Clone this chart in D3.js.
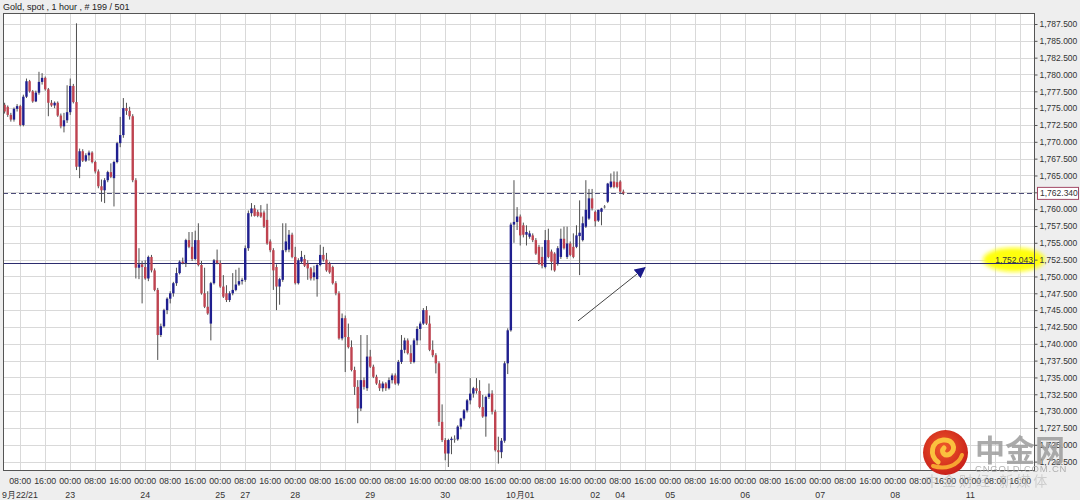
<!DOCTYPE html>
<html><head><meta charset="utf-8">
<script src="https://cdn.jsdelivr.net/npm/d3@7"></script>
<style>
html,body{margin:0;padding:0;background:#ededed;}
svg{display:block;font-family:"Liberation Sans",Arial,sans-serif;}
</style></head><body>
<svg id="chart" width="1080" height="500"></svg>
<script>
const title = "Gold, spot , 1 hour , # 199 / 501";

const opens = [1775.5,1775.2,1774.0,1773.3,1774.9,1775.3,1772.5,1776.7,1779.0,1777.5,
1776.0,1777.3,1778.9,1779.5,1777.8,1775.8,1775.4,1775.8,1773.9,1772.3,
1773.2,1774.4,1778.3,1775.9,1766.3,1768.6,1767.2,1768.0,1768.4,1767.0,
1765.6,1763.4,1762.8,1764.3,1765.5,1764.6,1767.0,1769.8,1771.0,1775.0,
1774.6,1773.8,1764.3,1751.3,1751.8,1751.4,1749.7,1752.9,1750.9,1748.0,
1741.3,1742.6,1745.0,1746.7,1747.5,1749.0,1750.5,1752.2,1752.0,1755.4,
1754.4,1752.6,1755.4,1751.7,1747.5,1745.5,1743.0,1749.0,1752.4,1752.0,
1748.5,1747.5,1746.5,1747.5,1748.0,1748.8,1749.3,1749.5,1754.2,1759.4,
1760.1,1759.6,1759.5,1759.5,1758.4,1755.2,1753.9,1751.4,1748.5,1749.5,
1753.9,1754.0,1756.2,1752.9,1749.0,1752.2,1752.6,1751.9,1751.2,1749.9,
1749.6,1751.7,1753.2,1752.5,1751.9,1751.4,1749.0,1747.5,1740.8,1743.8,
1741.0,1739.5,1736.1,1733.6,1730.4,1734.6,1733.4,1738.1,1736.6,1735.1,
1734.1,1733.4,1734.1,1733.4,1734.6,1735.3,1734.1,1737.3,1739.1,1740.5,
1738.6,1737.3,1740.5,1742.2,1743.0,1745.0,1743.0,1739.1,1738.3,1737.1,
1728.4,1725.7,1723.7,1725.7,1725.9,1725.8,1727.7,1728.9,1730.1,1731.6,
1732.6,1733.4,1733.0,1730.6,1729.2,1732.1,1732.6,1729.9,1724.2,1723.9,
1725.6,1737.1,1742.0,1757.7,1758.1,1758.9,1757.6,1756.2,1755.9,1756.1,
1755.4,1754.4,1752.9,1751.4,1755.4,1753.7,1753.4,1751.9,1752.9,1755.6,
1752.9,1754.9,1754.4,1754.4,1756.0,1755.4,1757.4,1758.6,1761.6,1759.6,
1758.3,1759.6,1760.3,1761.1,1763.3,1764.1,1764.0,1764.1,1762.6];

const highs = [1775.8,1775.4,1774.3,1775.1,1775.6,1775.5,1777.0,1779.4,1779.2,1777.7,
1777.6,1780.4,1780.2,1779.7,1778.0,1776.2,1776.0,1776.0,1774.2,1774.3,
1778.4,1779.4,1778.6,1787.6,1769.0,1768.9,1768.3,1768.7,1768.6,1767.2,
1765.9,1764.4,1764.6,1765.7,1766.8,1767.2,1770.0,1773.7,1776.5,1775.8,
1775.2,1774.1,1764.6,1754.2,1752.3,1752.4,1753.1,1753.2,1751.2,1748.3,
1743.0,1745.2,1746.9,1747.8,1749.2,1751.3,1752.4,1752.8,1755.6,1756.6,
1756.6,1756.8,1757.9,1752.3,1751.3,1747.8,1749.2,1752.6,1754.0,1752.4,
1750.2,1748.7,1747.8,1750.5,1751.0,1751.3,1749.8,1754.6,1759.8,1760.9,
1760.6,1759.9,1760.6,1759.8,1760.8,1755.5,1754.2,1751.8,1749.8,1757.9,
1757.9,1756.9,1756.5,1754.4,1752.7,1753.8,1753.2,1752.4,1751.4,1751.6,
1751.9,1754.7,1754.4,1753.5,1752.2,1751.6,1749.3,1747.8,1744.5,1744.2,
1743.0,1740.5,1736.6,1734.6,1741.3,1735.0,1741.3,1739.1,1736.9,1735.4,
1734.6,1734.4,1734.3,1735.0,1735.6,1735.6,1737.6,1741.3,1740.9,1740.8,
1739.8,1740.8,1742.6,1743.3,1745.3,1745.6,1744.2,1740.5,1738.6,1737.4,
1731.0,1726.0,1725.9,1726.2,1726.4,1727.9,1729.0,1730.3,1731.8,1734.9,
1733.6,1734.9,1734.6,1732.4,1732.3,1734.1,1733.1,1730.2,1726.2,1726.0,
1737.4,1742.3,1758.0,1764.3,1760.3,1759.2,1758.0,1757.6,1756.8,1756.4,
1755.7,1754.7,1754.4,1756.9,1757.1,1754.0,1753.6,1754.5,1757.1,1757.4,
1757.4,1755.2,1756.4,1757.6,1761.3,1758.9,1764.3,1763.0,1763.0,1759.8,
1759.9,1760.2,1760.6,1763.9,1765.3,1765.6,1765.6,1764.3,1762.9];

const lows = [1774.2,1773.7,1773.0,1773.0,1774.5,1772.3,1772.3,1776.5,1777.3,1775.8,
1775.9,1777.0,1778.5,1777.6,1773.8,1775.2,1775.0,1773.7,1772.0,1771.4,
1772.8,1774.0,1775.7,1765.8,1764.6,1767.0,1767.0,1767.2,1766.8,1765.3,
1763.1,1761.1,1760.9,1764.0,1764.6,1760.4,1766.8,1769.2,1770.6,1774.0,
1773.3,1764.0,1749.7,1749.6,1746.0,1749.5,1749.3,1750.6,1747.8,1737.6,
1741.0,1742.4,1744.4,1746.0,1747.0,1748.6,1750.3,1751.8,1751.4,1754.2,
1752.3,1752.4,1751.5,1747.3,1745.3,1744.3,1740.5,1748.8,1751.8,1748.3,
1746.8,1746.2,1746.2,1747.2,1747.8,1748.6,1748.8,1749.2,1753.8,1758.9,
1758.9,1758.8,1758.7,1757.2,1754.7,1753.6,1748.0,1745.0,1745.8,1749.2,
1753.6,1753.6,1752.7,1748.8,1748.8,1751.9,1751.4,1749.5,1749.4,1749.4,
1747.0,1751.5,1752.2,1750.7,1750.4,1748.8,1747.2,1740.6,1740.5,1735.8,
1739.3,1735.9,1732.4,1728.2,1730.0,1733.2,1733.0,1736.4,1734.9,1733.9,
1733.0,1732.9,1733.0,1733.2,1734.1,1733.9,1733.8,1737.0,1738.6,1738.4,
1737.0,1737.1,1739.8,1740.5,1742.8,1742.8,1738.9,1738.0,1735.6,1727.8,
1725.4,1722.7,1721.7,1723.6,1725.3,1725.6,1727.3,1728.6,1729.8,1731.0,
1732.0,1732.6,1730.4,1729.0,1726.2,1731.8,1729.5,1724.0,1722.2,1723.0,
1725.3,1735.5,1741.8,1755.0,1756.9,1754.6,1755.8,1754.6,1755.6,1755.1,
1753.2,1751.7,1751.2,1751.2,1752.7,1750.9,1750.7,1751.6,1752.6,1754.0,
1752.6,1753.0,1752.7,1754.2,1750.2,1755.2,1757.2,1758.4,1759.8,1757.4,
1758.1,1757.6,1760.1,1760.9,1763.1,1763.1,1763.1,1762.4,1762.1];

const closes = [1774.5,1774.0,1773.3,1774.9,1775.3,1772.5,1776.7,1779.0,1777.5,1776.0,
1777.3,1778.9,1779.5,1777.8,1775.8,1775.4,1775.8,1773.9,1772.3,1773.2,
1774.4,1778.3,1775.9,1766.3,1768.6,1767.2,1768.0,1768.4,1767.0,1765.6,
1763.4,1762.8,1764.3,1765.5,1764.8,1767.0,1769.8,1771.0,1775.0,1774.6,
1773.8,1764.3,1751.3,1751.8,1751.4,1749.7,1752.9,1750.9,1748.0,1741.3,
1742.6,1745.0,1746.7,1747.5,1749.0,1750.5,1752.2,1752.0,1755.4,1754.4,
1752.6,1755.4,1751.7,1747.5,1745.5,1744.5,1749.0,1752.4,1752.0,1748.5,
1747.0,1746.5,1747.5,1748.0,1748.8,1749.3,1749.5,1754.2,1759.4,1760.1,
1759.0,1759.0,1758.9,1757.4,1754.9,1753.9,1750.9,1748.5,1749.6,1753.9,
1755.2,1756.2,1752.9,1749.0,1752.4,1752.9,1751.6,1751.2,1749.7,1750.6,
1751.7,1753.2,1752.5,1750.9,1750.6,1749.0,1747.5,1740.8,1743.8,1741.0,
1739.5,1736.1,1733.6,1730.4,1734.6,1733.6,1738.1,1736.6,1735.1,1734.1,
1733.4,1734.1,1733.4,1734.6,1735.3,1734.1,1737.3,1739.1,1740.5,1738.6,
1737.3,1740.5,1742.2,1743.0,1745.0,1743.0,1739.1,1738.3,1737.1,1728.4,
1725.7,1723.7,1725.7,1725.9,1725.8,1727.7,1728.9,1730.1,1731.6,1732.6,
1733.4,1733.0,1730.6,1729.2,1732.1,1732.6,1729.9,1724.2,1723.9,1725.6,
1737.1,1742.0,1757.7,1758.1,1758.9,1756.1,1756.2,1756.6,1756.4,1755.4,
1753.4,1751.9,1751.6,1755.4,1752.9,1752.2,1750.9,1754.2,1755.6,1754.2,
1754.9,1753.2,1752.9,1756.1,1756.5,1757.9,1759.9,1761.6,1760.1,1758.2,
1759.9,1760.1,1760.4,1763.8,1764.1,1763.3,1763.3,1762.6,1762.34];

const timeTicks = ["08:00","16:00","00:00","08:00","16:00","00:00","08:00","16:00","00:00","08:00",
"16:00","00:00","08:00","16:00","00:00","08:00","16:00","00:00","08:00","16:00",
"00:00","08:00","16:00","00:00","08:00","16:00","00:00","08:00","16:00","00:00",
"08:00","16:00","00:00","08:00","16:00","00:00","08:00","16:00","00:00","08:00","16:00"];
const dateTicks = ["","","23","","","24","","","25","27",
"","28","","","29","","","30","","",
"10月01","","","02","04","","05","","","06",
"","","07","","","08","","","11","",""];
const firstDate = "9月22/21";
const priceTicks = [1722.5,1725,1727.5,1730,1732.5,1735,1737.5,1740,1742.5,1745,1747.5,1750,1752.5,
1755,1757.5,1760,1762.5,1765,1767.5,1770,1772.5,1775,1777.5,1780,1782.5,1785,1787.5];
const lastPrice = 1762.34;
const markPrice = 1752.043;
const arrowFrom = [183.5, 1743.4];
const arrowTo = [204.9, 1751.3];

const svg = d3.select("#chart");
const W = 1080, H = 500;
const plot = {l: 3, r: 1035, t: 13, b: 471};
const firstTickBar = 5, barsPerTick = 8;

const x = d3.scaleLinear().domain([0, 198]).range([4.6, 623.35]);
const y = d3.scaleLinear().domain([1722.5, 1787.5]).range([461.6, 24]);

const defs = svg.append("defs");
defs.append("clipPath").attr("id", "clip")
  .append("rect").attr("x", plot.l).attr("y", plot.t).attr("width", plot.r - plot.l).attr("height", plot.b - plot.t);
defs.append("filter").attr("id", "blur").attr("x", "-30%").attr("y", "-50%").attr("width", "160%").attr("height", "200%")
  .append("feGaussianBlur").attr("stdDeviation", 2.2);

svg.append("rect").attr("width", W).attr("height", H).attr("fill", "#eeeeee");
svg.append("rect").attr("x", plot.l).attr("y", plot.t).attr("width", plot.r - plot.l).attr("height", plot.b - plot.t).attr("fill", "#ffffff");

// grid
const grid = svg.append("g").attr("stroke", "#d9d9d9").attr("stroke-width", 1);
grid.selectAll("line.v").data(timeTicks).join("line")
  .attr("x1", (d, k) => Math.round(x(firstTickBar + k * barsPerTick)) + 0.5)
  .attr("x2", (d, k) => Math.round(x(firstTickBar + k * barsPerTick)) + 0.5)
  .attr("y1", plot.t).attr("y2", plot.b);
grid.selectAll("line.h").data(priceTicks).join("line")
  .attr("x1", plot.l).attr("x2", plot.r)
  .attr("y1", d => Math.round(y(d)) + 0.5).attr("y2", d => Math.round(y(d)) + 0.5);

// reference lines
svg.append("line").attr("x1", plot.l).attr("x2", plot.r)
  .attr("y1", Math.round(y(lastPrice)) + 0.5).attr("y2", Math.round(y(lastPrice)) + 0.5)
  .attr("stroke", "#4b4b78").attr("stroke-dasharray", "5,3");

svg.append("ellipse").attr("cx", 1014).attr("cy", y(markPrice) - 3).attr("rx", 31).attr("ry", 12)
  .attr("fill", "#ffff10").attr("filter", "url(#blur)");
svg.append("line").attr("x1", plot.l).attr("x2", plot.r)
  .attr("y1", Math.round(y(markPrice)) + 0.5).attr("y2", Math.round(y(markPrice)) + 0.5)
  .attr("stroke", "#2c2c6e").attr("stroke-width", 1);
svg.append("text").attr("x", plot.r - 2).attr("y", Math.round(y(markPrice)) - 0.5)
  .attr("text-anchor", "end").attr("font-size", 8.5).attr("fill", "#333")
  .text(d3.format(",.3f")(markPrice));

// candles
const bars = opens.map((o, i) => ({i, o, h: Math.max(highs[i], o, closes[i]), l: Math.min(lows[i], o, closes[i]), c: closes[i]}));
const colorOf = d => Math.abs(d.c - d.o) < 0.15 ? "#808080" : (d.c > d.o ? "#1f1f8f" : "#bf4350");
const cg = svg.append("g").attr("clip-path", "url(#clip)");
cg.selectAll("line.w").data(bars).join("line")
  .attr("x1", d => x(d.i)).attr("x2", d => x(d.i))
  .attr("y1", d => y(d.h)).attr("y2", d => y(d.l))
  .attr("stroke", "#505050").attr("stroke-width", 1);
cg.selectAll("rect.b").data(bars).join("rect")
  .attr("x", d => x(d.i) - 1.2).attr("width", 2.4)
  .attr("y", d => y(Math.max(d.o, d.c)))
  .attr("height", d => Math.max(1, y(Math.min(d.o, d.c)) - y(Math.max(d.o, d.c))))
  .attr("fill", colorOf);

// arrow
defs.append("marker").attr("id", "ah").attr("viewBox", "0 0 10 10").attr("refX", 9).attr("refY", 5)
  .attr("markerWidth", 11).attr("markerHeight", 11).attr("markerUnits", "userSpaceOnUse").attr("orient", "auto")
  .append("path").attr("d", "M0,0 L10,5 L0,10 z").attr("fill", "#1a1a8a");
svg.append("line")
  .attr("x1", x(arrowFrom[0])).attr("y1", y(arrowFrom[1]))
  .attr("x2", x(arrowTo[0])).attr("y2", y(arrowTo[1]))
  .attr("stroke", "#444").attr("stroke-width", 1).attr("marker-end", "url(#ah)");

// frame
svg.append("rect").attr("x", plot.l + 0.5).attr("y", plot.t + 0.5)
  .attr("width", plot.r - plot.l - 1).attr("height", plot.b - plot.t - 1)
  .attr("fill", "none").attr("stroke", "#555");

// right axis
const ax = svg.append("g").attr("transform", `translate(${plot.r - 0.5},0)`)
  .call(d3.axisRight(y).tickValues(priceTicks).tickFormat(d3.format(",.3f")).tickSize(3).tickPadding(2));
ax.select(".domain").remove();
ax.selectAll("line").attr("stroke", "#555");
ax.selectAll("text").attr("font-size", 8.5).attr("fill", "#333").attr("font-family", "Liberation Sans, Arial, sans-serif");

// last price box
const ly = y(lastPrice);
svg.append("rect").attr("x", 1037.5).attr("y", ly - 6).attr("width", 41).attr("height", 12)
  .attr("fill", "#fff").attr("stroke", "#a34a66");
svg.append("text").attr("x", 1040).attr("y", ly + 3).attr("font-size", 8.5).attr("fill", "#333")
  .text(d3.format(",.3f")(lastPrice));

// bottom labels
const bl = svg.append("g").attr("font-size", 8.8).attr("fill", "#333").attr("text-anchor", "middle");
bl.selectAll("text.t").data(timeTicks).join("text")
  .attr("x", (d, k) => x(firstTickBar + k * barsPerTick)).attr("y", 484).text(d => d);
bl.selectAll("text.d").data(dateTicks).join("text")
  .attr("x", (d, k) => x(firstTickBar + k * barsPerTick)).attr("y", 497.5).text(d => d);
svg.append("text").attr("x", 2).attr("y", 497.5).attr("font-size", 8.8).attr("fill", "#333").text(firstDate);

// title
svg.append("text").attr("x", 3).attr("y", 10).attr("font-size", 9).attr("fill", "#222").text(title);

// watermark
const wm = svg.append("g");
const rg = defs.append("radialGradient").attr("id", "lg").attr("cx", "45%").attr("cy", "40%").attr("r", "60%");
rg.append("stop").attr("offset", "0%").attr("stop-color", "#f05a2a");
rg.append("stop").attr("offset", "100%").attr("stop-color", "#c9201a");
wm.append("circle").attr("cx", 945.5).attr("cy", 452.5).attr("r", 22.5).attr("fill", "url(#lg)");
wm.append("path").attr("d", "M938,462 C929,456 931,441 943,440 C953,439 957,449 950,454 C945,457 940,452 944,448")
  .attr("fill", "none").attr("stroke", "#fbc13e").attr("stroke-width", 5).attr("stroke-linecap", "round");
wm.append("path").attr("d", "M933,466 C945,470 958,466 962,455")
  .attr("fill", "none").attr("stroke", "#f7a531").attr("stroke-width", 4).attr("stroke-linecap", "round");
wm.append("text").attr("x", 975).attr("y", 461).attr("font-size", 30).attr("font-weight", "bold")
  .attr("font-family", "Noto Sans CJK SC").attr("fill", "#9c9c9c").attr("opacity", 0.85).text("中金网");
wm.append("text").attr("x", 975).attr("y", 472).attr("font-size", 9.5).attr("letter-spacing", 0.8)
  .attr("fill", "#aaaaaa").attr("opacity", 0.9).text("CNGOLD.COM.CN");
wm.append("text").attr("x", 925).attr("y", 486).attr("font-size", 14)
  .attr("font-family", "Noto Sans CJK SC").attr("fill", "#b8b8b8").attr("opacity", 0.6).attr("letter-spacing", 3).text("中金财经 新媒体");
</script>
</body></html>
